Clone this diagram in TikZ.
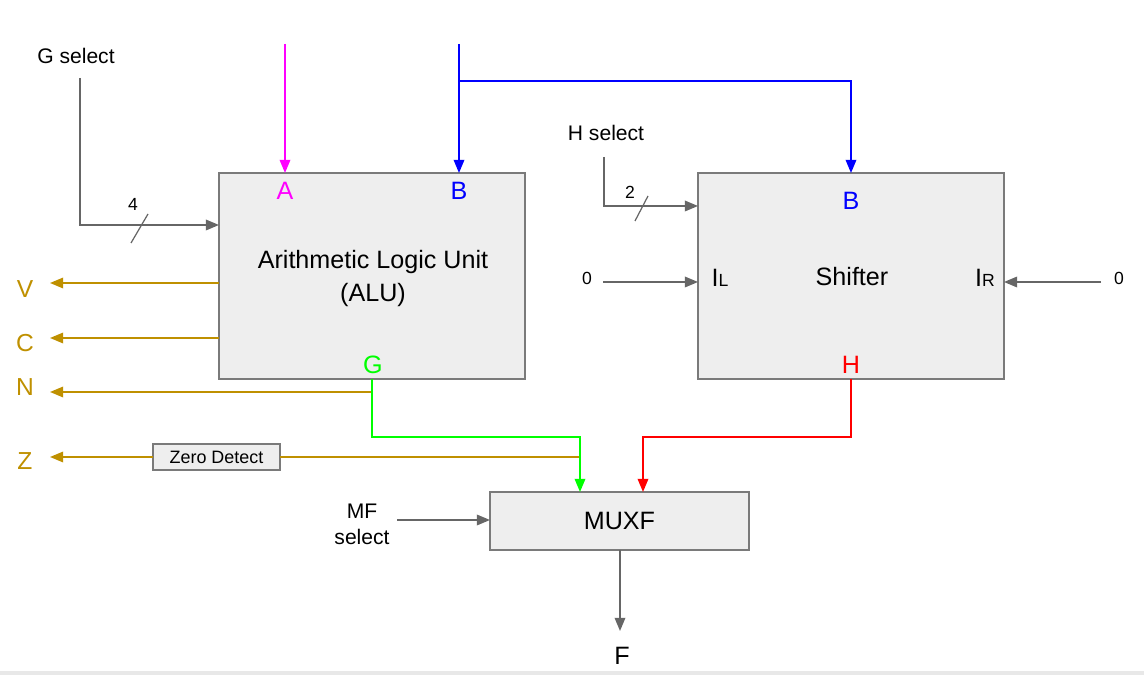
\documentclass[tikz,border=0pt]{standalone}
\usepackage{fontspec}
\setmainfont{Liberation Sans}
\usetikzlibrary{arrows.meta}
\definecolor{flagc}{RGB}{191,144,0}
\definecolor{wirec}{RGB}{102,102,102}
\definecolor{boxline}{RGB}{122,122,122}
\definecolor{boxfill}{RGB}{238,238,238}
\definecolor{greenc}{RGB}{0,255,0}
\definecolor{magentac}{RGB}{255,0,255}
\definecolor{bluec}{RGB}{0,0,255}
\definecolor{redc}{RGB}{255,0,0}
\begin{document}
\begin{tikzpicture}[x=0.02cm,y=-0.02cm,line width=1pt,>={Triangle[length=7.5pt,width=6pt]}]
	\tikzstyle{block}=[draw=boxline,fill=boxfill,line width=1.15pt,inner sep=0pt,outer sep=0pt]
	\tikzstyle{big}=[font=\fontsize{14.3}{18.7}\selectfont]
	\tikzstyle{seltext}=[font=\fontsize{12}{14.7}\selectfont,align=center]
	\tikzstyle{bitstext}=[font=\fontsize{10}{12}\selectfont]
	\tikzstyle{flagtext}=[text=flagc,font=\fontsize{14}{17}\selectfont]
	\tikzstyle{wire}=[draw=wirec,->]
	\tikzstyle{flagline}=[draw=flagc,->]
	\useasboundingbox (0,0) rectangle (1144,675);
	\fill[black!9] (0,671) rectangle (1144,675);
	\node[block,minimum width=6.12cm,minimum height=4.12cm] (alu) at (372,276) {};
	\node[big,align=center] (alutext) at (373,278.5) {Arithmetic Logic Unit\\(ALU)};
	\node[big,text=magentac] (alua) at (285,191) {A};
	\node[big,text=bluec] (alub) at (459,191) {B};
	\node[big,text=greenc] (alug) at (373,365) {G};
	\node[block,minimum width=6.12cm,minimum height=4.12cm] (shifter) at (851,276) {};
	\node[big] (shiftext) at (852,277) {Shifter};
	\node[big,text=bluec] (shb) at (851,201) {B};
	\node[big] (il) at (720,278) {I{\fontsize{10}{12}\selectfont L}};
	\node[big] (ir) at (985,278) {I{\fontsize{10}{12}\selectfont R}};
	\node[big,text=redc] (shh) at (851,365) {H};
	\node[block,big,minimum width=5.18cm,minimum height=1.16cm] (muxf) at (619.5,521) {MUXF};
	\node[block,minimum width=2.54cm,minimum height=0.52cm,font=\fontsize{10.2}{12}\selectfont] (zero) at (216.5,457) {Zero Detect};
	\node[seltext] (gsel) at (76,56) {G select};
	\node[seltext] (hsel) at (606,133) {H select};
	\node[seltext] (mfsel) at (362,524) {MF\\select};
	\node[bitstext] (gbits) at (133,204) {4};
	\node[bitstext] (hbits) at (630,192) {2};
	\node[bitstext] (zleft) at (587,278) {0};
	\node[bitstext] (zright) at (1119,278) {0};
	\node[big] (fout) at (622,656) {F};
	\node[flagtext] (flagv) at (25,289) {V};
	\node[flagtext] (flagc) at (25,343) {C};
	\node[flagtext] (flagn) at (25,387) {N};
	\node[flagtext] (flagz) at (25,461) {Z};
	\coordinate (ain) at (285,44);
	\coordinate (bin) at (459,44);
	\coordinate (bsplit) at (459,81);
	\coordinate (gsin) at (80,78);
	\coordinate (gsturn) at (80,225);
	\coordinate (hsin) at (604,157);
	\coordinate (hsturn) at (604,206);
	\coordinate (ilin) at (603,282);
	\coordinate (irin) at (1101,282);
	\coordinate (vend) at (50,283);
	\coordinate (cend) at (50,338);
	\coordinate (nend) at (50,392);
	\coordinate (zend) at (50,457);
	\coordinate (zsrc) at (580,457);
	\coordinate (gturn) at (580,437);
	\coordinate (hturn) at (643,437);
	\coordinate (mfin) at (397,520);
	\coordinate (fend) at (620,631);
	\draw[magentac,->] (ain) -- (ain |- alu.north);
	\draw[bluec,->] (bin) -- (bin |- alu.north);
	\draw[bluec,->] (bsplit) -| (shifter.north);
	\draw[wire] (gsin) -- (gsturn) -- (gsturn -| alu.west);
	\draw[wirec,line width=0.7pt] (131,243) -- (148,214);
	\draw[wire] (hsin) -- (hsturn) -- (hsturn -| shifter.west);
	\draw[wirec,line width=0.7pt] (635,221) -- (648,196);
	\draw[wire] (ilin) -- (ilin -| shifter.west);
	\draw[wire] (irin) -- (irin -| shifter.east);
	\draw[flagline] (vend -| alu.west) -- (vend);
	\draw[flagline] (cend -| alu.west) -- (cend);
	\draw[flagline] (nend -| alu.south) -- (nend);
	\draw[flagc] (zsrc) -- (zero.east);
	\draw[flagline] (zero.west) -- (zend);
	\draw[greenc,->] (alu.south) |- (gturn) -- (gturn |- muxf.north);
	\draw[redc,->] (shifter.south) |- (hturn) -- (hturn |- muxf.north);
	\draw[wire] (mfin) -- (mfin -| muxf.west);
	\draw[wire] (muxf.south -| fend) -- (fend);
\end{tikzpicture}
\end{document}
